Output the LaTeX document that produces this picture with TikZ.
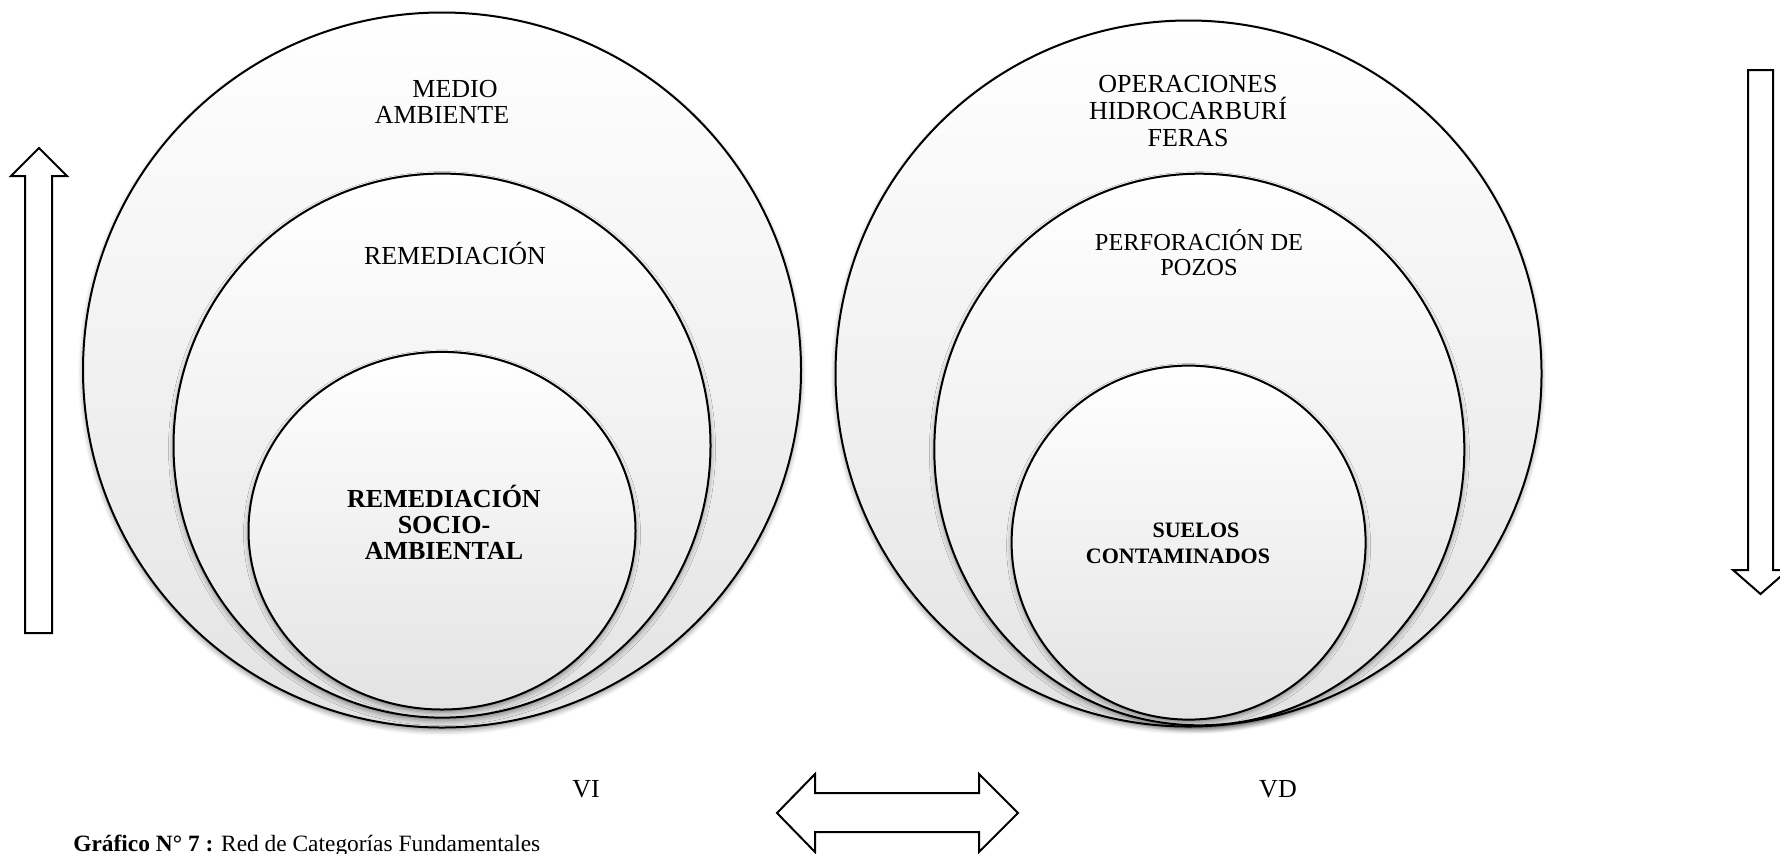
\documentclass[tikz,border=0pt]{standalone}
\usepackage{fontspec}
\setmainfont{Liberation Serif}
\usetikzlibrary{shapes.geometric,shadows.blur}
\begin{document}
\begin{tikzpicture}[x=0.5pt,y=-0.5pt,
  ring/.style={ellipse, draw=black, line width=1pt, top color=white,
    middle color=white, bottom color=black!11, inner sep=0pt,
    blur shadow={shadow xshift=0pt, shadow yshift=-1.5pt,
      shadow blur radius=2.5pt, shadow opacity=45}},
  lbl/.style={align=center, anchor=base, inner sep=0pt},
  blockarrow/.style={draw=black, line width=1pt, fill=white, line join=miter}]
\useasboundingbox (0,0) rectangle (1780,853);

% independent variable: nested categories
\node[ring, minimum width=359pt, minimum height=357.5pt] (vi1) at (442,370) {};
\node[ring, minimum width=268.5pt, minimum height=272pt] (vi2) at (442,445.6) {};
\node[ring, minimum width=193.5pt, minimum height=178.8pt] (vi3) at (442,530.7) {};

% dependent variable: nested categories
\node[ring, minimum width=353pt, minimum height=353pt] (vd1) at (1188.5,373.5) {};
\node[ring, minimum width=265pt, minimum height=275.8pt] (vd2) at (1199.3,449.5) {};
\node[ring, minimum width=177pt, minimum height=177pt] (vd3) at (1188.6,542.6) {};

% category names (anchored at the baseline of the last line)
\node[lbl, font=\fontsize{13}{13}\selectfont] (t1) at (442,123) {\hspace*{13pt}MEDIO\\AMBIENTE};
\node[lbl, font=\fontsize{13}{13}\selectfont] (t2) at (455,264) {REMEDIACIÓN};
\node[lbl, font=\fontsize{13}{13}\selectfont\bfseries] (t3) at (444,559) {REMEDIACIÓN\\SOCIO-\\AMBIENTAL};
\node[lbl, font=\fontsize{13}{13.5}\selectfont] (t4) at (1188,146) {OPERACIONES\\HIDROCARBURÍ\\FERAS};
\node[lbl, font=\fontsize{12.2}{12.5}\selectfont] (t5) at (1199,275) {PERFORACIÓN DE\\POZOS};
\node[lbl, font=\fontsize{11}{13}\selectfont\bfseries] (t6) at (1178,563) {SUELOS\hspace*{-18pt}\\CONTAMINADOS};

\node[lbl, font=\fontsize{13}{13}\selectfont] (vi) at (586,797) {VI};
\node[lbl, font=\fontsize{13}{13}\selectfont] (vd) at (1278,797) {VD};

% block arrows
\draw[blockarrow] (25,633) -- (25,176) -- (11,176) -- (39,148) -- (67,176)
  -- (52,176) -- (52,633) -- cycle;
\draw[blockarrow] (1748,70) -- (1773,70) -- (1773,570) -- (1788,570)
  -- (1760.5,594) -- (1733,570) -- (1748,570) -- cycle;
\draw[blockarrow] (777,813) -- (815,774) -- (815,793) -- (979,793) -- (979,774)
  -- (1018,813) -- (979,852) -- (979,832) -- (815,832) -- (815,852) -- cycle;

% caption
\node[anchor=base west, inner sep=0pt] (caption) at (73,851)
  {\fontsize{11.7}{14}\selectfont\textbf{Gráfico N° 7 :} Red de Categorías Fundamentales};
\end{tikzpicture}
\end{document}
